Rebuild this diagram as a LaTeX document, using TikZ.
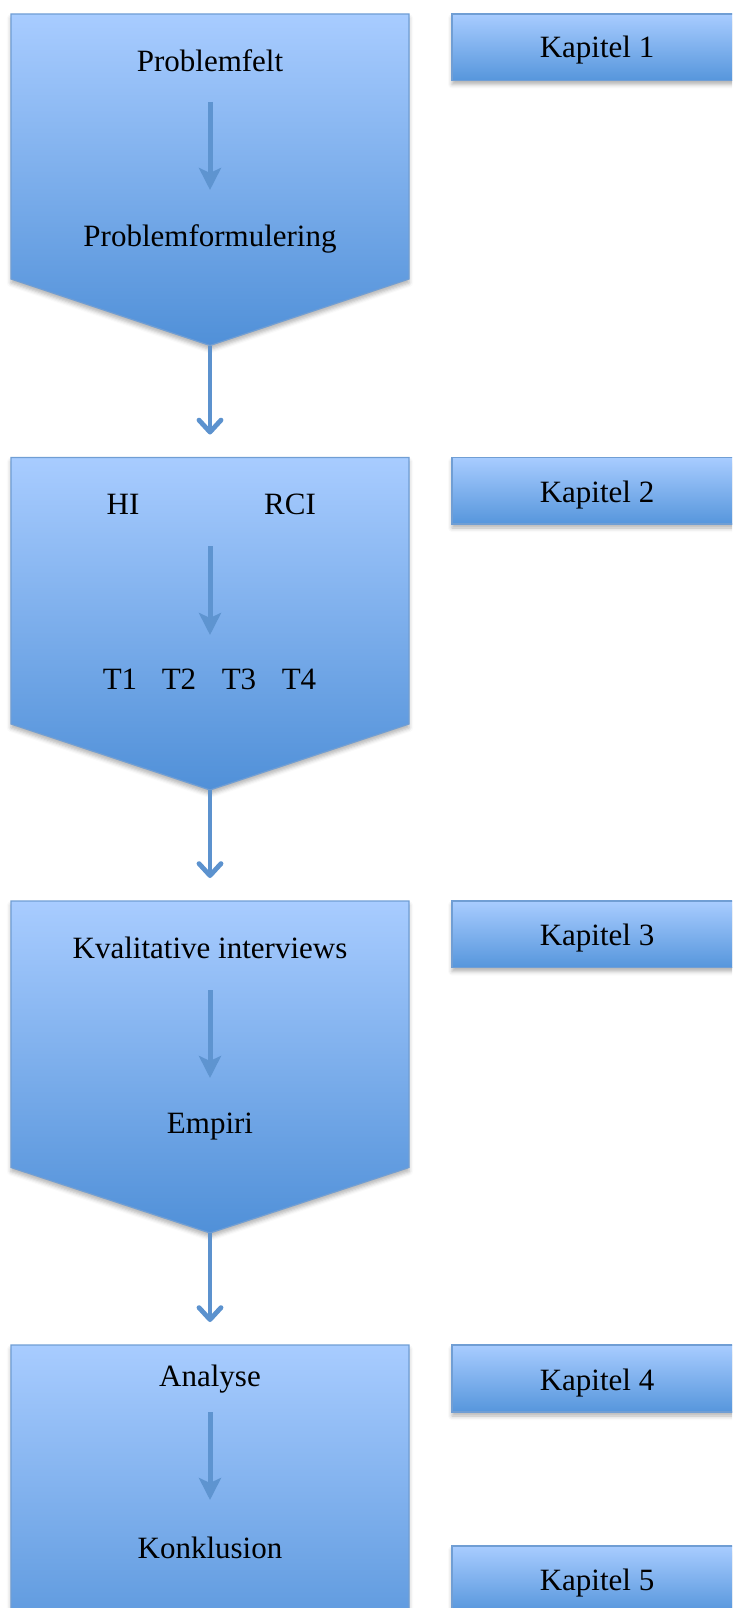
\documentclass[tikz,border=0pt]{standalone}
\usepackage{fontspec}
\setmainfont{Liberation Serif}
\usetikzlibrary{arrows.meta,shadows.blur}
\definecolor{btop}{RGB}{168,204,255}
\definecolor{bbot}{RGB}{80,144,216}
\definecolor{kbot}{RGB}{86,150,220}
\definecolor{bline}{RGB}{112,158,212}
\definecolor{arr}{RGB}{92,146,206}
\definecolor{iarr}{RGB}{94,148,208}
\begin{document}
\begin{tikzpicture}[x=1pt,y=-1pt,
  stage/.style={top color=btop,bottom color=bbot,draw=bline,line width=1.2pt,
    blur shadow={shadow xshift=0pt,shadow yshift=-4pt,shadow blur radius=4pt,shadow opacity=30}},
  kapbox/.style={top color=btop,bottom color=kbot,draw=bline,line width=1.2pt,
    blur shadow={shadow xshift=0pt,shadow yshift=-4pt,shadow blur radius=4pt,shadow opacity=30}},
  lbl/.style={font=\fontsize{31}{36}\selectfont,anchor=base,inner sep=0pt},
  conn/.style={draw=arr,line width=4.8pt,-{Straight Barb[length=12pt,width=22pt,round]}},
  innerarrow/.style={draw=iarr,line width=5pt,-{Stealth[length=22pt,width=22pt,inset=5pt]}}]
\useasboundingbox (0,0) rectangle (732,1608);
\clip (0,0) rectangle (732,1608);

% stage shapes
\path[stage] (11,14) -- (409,14) -- (409,279) -- (210,345.5) -- (11,279) -- cycle;
\path[stage] (11,457.5) -- (409,457.5) -- (409,724) -- (210,790) -- (11,724) -- cycle;
\path[stage] (11,901) -- (409,901) -- (409,1167.5) -- (210,1233) -- (11,1167.5) -- cycle;
\path[stage] (11,1345) -- (409,1345) -- (409,1611.5) -- (210,1677.5) -- (11,1611.5) -- cycle;

% chapter boxes
\path[kapbox] (452,14) rectangle (745,80.5);
\path[kapbox] (452,457.5) rectangle (745,524);
\path[kapbox] (452,901) rectangle (745,967.5);
\path[kapbox] (452,1345) rectangle (745,1412);
\path[kapbox] (452,1546) rectangle (745,1612.5);

% coordinates
\coordinate (s1tip) at (210,345.5);
\coordinate (s2in) at (210,434.5);
\coordinate (s2tip) at (210,790);
\coordinate (s3in) at (210,878);
\coordinate (s3tip) at (210,1233);
\coordinate (s4in) at (210,1322);

\coordinate (i1a) at (210,102);  \coordinate (i1b) at (210,190);
\coordinate (i2a) at (210,546);  \coordinate (i2b) at (210,635);
\coordinate (i3a) at (210,990);  \coordinate (i3b) at (210,1078);
\coordinate (i4a) at (210,1412); \coordinate (i4b) at (210,1500);

% connectors
\draw[conn] (s1tip) -- (s2in);
\draw[conn] (s2tip) -- (s3in);
\draw[conn] (s3tip) -- (s4in);

% inner arrows
\draw[innerarrow] (i1a) -- (i1b);
\draw[innerarrow] (i2a) -- (i2b);
\draw[innerarrow] (i3a) -- (i3b);
\draw[innerarrow] (i4a) -- (i4b);

% texts
\node[lbl] (pf) at (210,71.5) {Problemfelt};
\node[lbl] (pfm) at (210,246.7) {Problemformulering};
\node[lbl] (hi) at (123,514) {HI};
\node[lbl] (rci) at (290,514) {RCI};
\node[lbl] (t1) at (120,689) {T1};
\node[lbl] (t2) at (179,689) {T2};
\node[lbl] (t3) at (239,689) {T3};
\node[lbl] (t4) at (299,689) {T4};
\node[lbl] (kv) at (210,958) {Kvalitative interviews};
\node[lbl] (em) at (210,1133) {Empiri};
\node[lbl] (an) at (210,1386) {Analyse};
\node[lbl] (ko) at (210,1558) {Konklusion};

\node[lbl] (k1) at (597,58) {Kapitel 1};
\node[lbl] (k2) at (597,502) {Kapitel 2};
\node[lbl] (k3) at (597,945) {Kapitel 3};
\node[lbl] (k4) at (597,1390) {Kapitel 4};
\node[lbl] (k5) at (597,1590) {Kapitel 5};
\end{tikzpicture}
\end{document}
